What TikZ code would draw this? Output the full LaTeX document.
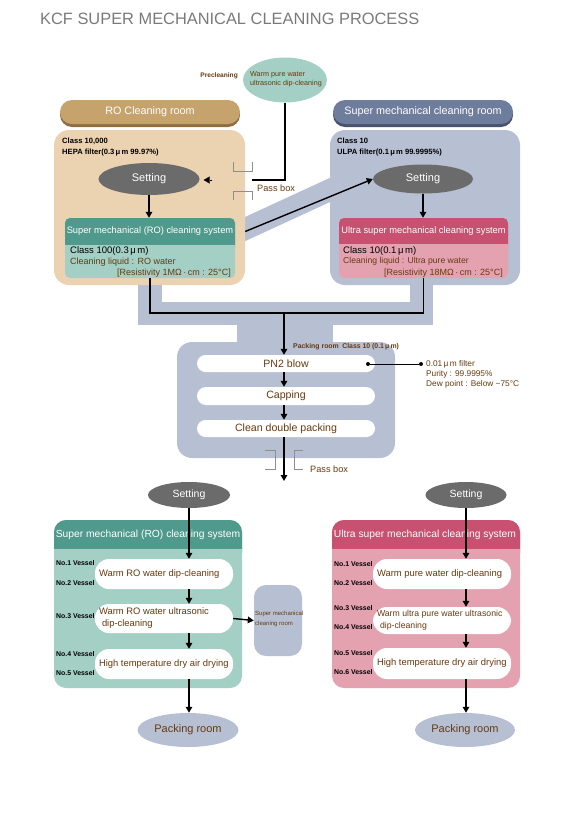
\documentclass[tikz,border=0pt]{standalone}
\usepackage{fontspec}
\setmainfont{Liberation Sans}
\usetikzlibrary{shapes.geometric,arrows.meta,calc}
\definecolor{titlegray}{HTML}{7A7A7A}
\definecolor{tanhdr}{HTML}{C6A36C}
\definecolor{tanshadow}{HTML}{8F6E42}
\definecolor{tanroom}{HTML}{EBD2B1}
\definecolor{slatehdr}{HTML}{6F7D9D}
\definecolor{slateshadow}{HTML}{48526C}
\definecolor{bandblue}{HTML}{B7BFD3}
\definecolor{tealhdr}{HTML}{4F9A8C}
\definecolor{tealbody}{HTML}{A4CFC4}
\definecolor{rasphdr}{HTML}{C85070}
\definecolor{pinkbody}{HTML}{E4A2B1}
\definecolor{txtbrown}{HTML}{663A10}
\definecolor{setgray}{HTML}{6B6B6B}
\definecolor{brackgray}{HTML}{8E8E8E}
\newcommand\fsz[2]{\fontsize{#1pt}{#2pt}\selectfont}
\begin{document}
\begin{tikzpicture}[x=1pt,y=-1pt,
  conn/.style={line width=1.4pt, black},
  arr/.style={conn, -{Triangle[length=6pt,width=6.5pt]}},
  settingnode/.style={ellipse, fill=setgray, text=white, inner sep=0pt, font=\fsz{11}{13}},
  roomhdr/.style={rounded corners=12pt, inner sep=0pt, text=white, font=\fsz{10.8}{13}, minimum width=180pt, minimum height=24pt},
  room/.style={rounded corners=15pt, inner sep=0pt},
  smalltxt/.style={inner sep=0pt, font=\bfseries\fsz{7.6}{10}},
  browntxt/.style={inner sep=0pt, text=txtbrown},
  hdrtxt/.style={inner sep=0pt, text=white},
  pill/.style={fill=white, rounded corners=14pt, inner sep=0pt, minimum width=138pt},
  pilltext/.style={inner sep=0pt, text=txtbrown, font=\fsz{9.4}{12}, align=left},
  packpill/.style={fill=white, rounded corners=8.5pt, minimum width=178pt, minimum height=17pt, inner sep=0pt, text=txtbrown, font=\fsz{10.6}{12}},
  vessel/.style={inner sep=0pt, font=\bfseries\fsz{6.9}{8}, anchor=west},
  bracket/.style={brackgray, line width=0.8pt},
  packell/.style={ellipse, fill=bandblue, text=txtbrown, inner sep=0pt, minimum width=101pt, minimum height=34pt, font=\fsz{11}{13}}
]
\useasboundingbox (0,0) rectangle (582,817);

% title
\node[font=\fsz{16.4}{18}, text=titlegray, anchor=west, inner sep=0pt] (title) at (40,19) {KCF SUPER MECHANICAL CLEANING PROCESS};

% connecting bands
\fill[bandblue] (138,260) rectangle (162,325);
\fill[bandblue] (410,260) rectangle (433,325);
\fill[bandblue] (138,302) rectangle (433,325);
\fill[bandblue] (237,320) rectangle (333,350);
\draw[bandblue, line width=22pt] (230,236) -- (345,183);

% room headers
\fill[tanshadow, rounded corners=12pt] (60,103) rectangle (240,127);
\node[roomhdr, fill=tanhdr] (rohdr) at (150,112) {RO Cleaning room};
\fill[slateshadow, rounded corners=12pt] (333,103) rectangle (513,127);
\node[roomhdr, fill=slatehdr] (smhdr) at (423,112) {Super mechanical cleaning room};

% rooms
\node[room, fill=tanroom, minimum width=191pt, minimum height=155pt] (roroom) at (149.5,207.5) {};
\node[room, fill=bandblue, minimum width=190pt, minimum height=155pt] (smroom) at (425,207.5) {};

\node[smalltxt, anchor=west] (rocls) at (62,141) {Class 10,000};
\node[smalltxt, anchor=west] (rohepa) at (62,153) {HEPA filter(0.3\,μ\,m 99.97\%)};
\node[smalltxt, anchor=west] (smcls) at (337,141) {Class 10};
\node[smalltxt, anchor=west] (smulpa) at (337,153) {ULPA filter(0.1\,μ\,m 99.9995\%)};

% setting ellipses (top)
\node[settingnode, minimum width=101pt, minimum height=32pt] (set1) at (149,179) {Setting};
\node[settingnode, minimum width=100pt, minimum height=29pt] (set2) at (423,179) {Setting};

% RO system box (top)
\node[fill=tealbody, rounded corners=5pt, minimum width=170pt, minimum height=60pt, inner sep=0pt] (rosys) at (150,248) {};
\fill[tealhdr, rounded corners=5pt] (65,218) rectangle (235,252);
\fill[tealbody] (65,245) rectangle (235,254);
\node[hdrtxt, font=\fsz{9.3}{11}] (rosyshdr) at (150,231.5) {Super mechanical (RO) cleaning system};
\node[inner sep=0pt, anchor=west, font=\fsz{9.5}{11}] (rosyscls) at (70,251) {Class 100(0.3\,μ\,m)};
\node[browntxt, anchor=west, font=\fsz{9}{11}] (rosysliq) at (70,262) {Cleaning liquid : RO water};
\node[browntxt, anchor=east, font=\fsz{9}{11}] (rosysres) at (231,273) {[Resistivity 1MΩ\,·\,cm : 25°C]};

% Ultra system box (top)
\node[fill=pinkbody, rounded corners=5pt, minimum width=169pt, minimum height=60pt, inner sep=0pt] (ulsys) at (423.5,248) {};
\fill[rasphdr, rounded corners=5pt] (339,218) rectangle (508,251);
\fill[pinkbody] (339,244) rectangle (508,254);
\node[hdrtxt, font=\fsz{9.3}{11}] (ulsyshdr) at (423.5,231) {Ultra super mechanical cleaning system};
\node[inner sep=0pt, anchor=west, font=\fsz{9.5}{11}] (ulsyscls) at (343,251) {Class 10(0.1\,μ\,m)};
\node[browntxt, anchor=west, font=\fsz{8.6}{11}] (ulsysliq) at (343,261) {Cleaning liquid : Ultra pure water};
\node[browntxt, anchor=east, font=\fsz{9}{11}] (ulsysres) at (503,273) {[Resistivity 18MΩ\,·\,cm : 25°C]};

% precleaning
\node[ellipse, fill=tealbody, minimum width=84pt, minimum height=45pt, inner sep=0pt] (pre) at (285,80) {};
\node[browntxt, anchor=west, align=left, font=\fsz{7.2}{9}] (pretxt) at (250,79.5) {Warm pure water\\ultrasonic dip-cleaning};
\node[browntxt, anchor=east, font=\bfseries\fsz{6.6}{9}] (prelbl) at (238,76) {Precleaning};

% pass box (top)
\coordinate (pbend) at (252,180);
\draw[conn] (pre.south) |- (pbend);
\draw[bracket] (233,162) -- (233,171.5) -- (252,171.5) -- (252,162);
\draw[bracket] (233,200) -- (233,191) -- (252,191) -- (252,200);
\node[browntxt, anchor=west, font=\fsz{9.2}{11}] (pbtxt1) at (257,188) {Pass box};
\coordinate (tipstart) at (212,180);
\coordinate (tipend) at ($(set1.east)+(4,1)$);
\draw[-{Triangle[length=6pt,width=7pt]}, line width=0.1pt] (tipstart) -- (tipend);

% top arrows
\draw[arr] (set1.south) -- (set1.south |- rosys.north);
\draw[arr] (set2.south) -- (set2.south |- ulsys.north);
\draw[arr] (roroom.east |- rosyshdr) -- (set2.west);

% merge to packing room
\coordinate (jn) at (284,313);
\draw[conn] (rosys.south) |- (jn) -| (ulsys.south);

% packing room
\node[room, fill=bandblue, minimum width=218pt, minimum height=116pt] (packroom) at (286,400) {};
\node[browntxt, anchor=west, font=\bfseries\fsz{6.9}{9}] (packlbl) at (293,347) {Packing room\enspace Class 10 (0.1\,μ\,m)};
\node[packpill] (pn2) at (286,363.5) {PN2 blow};
\node[packpill, minimum height=18pt, rounded corners=9pt] (cap) at (286,396) {Capping};
\node[packpill] (cdp) at (286,428.5) {Clean double packing};
\draw[arr] (jn) -- (jn |- pn2.north);
\draw[arr] (jn |- pn2.south) -- (jn |- cap.north);
\draw[arr] (jn |- cap.south) -- (jn |- cdp.north);

\node[circle, fill=black, inner sep=0pt, minimum size=4pt] (dot1) at (368,364) {};
\node[circle, fill=black, inner sep=0pt, minimum size=4pt] (dot2) at (421,364) {};
\draw[line width=0.7pt] (dot1) -- (dot2);
\node[browntxt, anchor=west, align=left, font=\fsz{8.3}{10}] (filt) at (426,374.5) {0.01\,μ\,m filter\\Purity : 99.9995\%\\Dew point : Below −75°C};

% pass box (bottom)
\coordinate (passout) at (284,481);
\draw[arr] (jn |- cdp.south) -- (passout);
\draw[bracket] (265,450.5) -- (275,450.5) -- (275,469) -- (265,469);
\draw[bracket] (303,450.5) -- (294,450.5) -- (294,469) -- (303,469);
\node[browntxt, anchor=west, font=\fsz{9.2}{11}] (pbtxt2) at (310,469) {Pass box};

% bottom setting
\node[settingnode, minimum width=82pt, minimum height=26pt, font=\fsz{10.5}{12}] (set3) at (189,495) {Setting};
\node[settingnode, minimum width=81pt, minimum height=26pt, font=\fsz{10.5}{12}] (set4) at (466,495) {Setting};

% bottom left system
\node[fill=tealbody, rounded corners=12pt, minimum width=188pt, minimum height=168pt, inner sep=0pt] (lsys) at (148,604) {};
\fill[tealhdr, rounded corners=12pt] (54,520) rectangle (242,565);
\fill[tealbody] (54,549) rectangle (242,567);
\node[hdrtxt, font=\fsz{10.3}{12}] (lsyshdr) at (148,534.5) {Super mechanical (RO) cleaning system};

% bottom right system
\node[fill=pinkbody, rounded corners=12pt, minimum width=188pt, minimum height=168pt, inner sep=0pt] (rsys) at (426,604) {};
\fill[rasphdr, rounded corners=12pt] (332,520) rectangle (520,565);
\fill[pinkbody] (332,549) rectangle (520,567);
\node[hdrtxt, font=\fsz{10.3}{12}] (rsyshdr) at (425,534.5) {Ultra super mechanical cleaning system};

% left pills
\node[pill, minimum height=30pt] (lp1) at (164,574) {};
\node[pill, minimum height=29pt] (lp2) at (164,618.5) {};
\node[pill, minimum height=30pt] (lp3) at (164,664) {};
\node[pilltext, anchor=west] (lp1t) at ($(lp1.west)+(4,0)$) {Warm RO water dip-cleaning};
\node[pilltext, anchor=west] (lp2t) at ($(lp2.west)+(4,0)$) {Warm RO water ultrasonic\\\hspace{3pt}dip-cleaning};
\node[pilltext, anchor=west] (lp3t) at ($(lp3.west)+(4,0)$) {High temperature dry air drying};

% right pills
\node[pill, minimum height=30pt] (rp1) at (442,574) {};
\node[pill, minimum height=27pt] (rp2) at (442,620.5) {};
\node[pill, minimum height=31pt] (rp3) at (442,663.5) {};
\node[pilltext, anchor=west] (rp1t) at ($(rp1.west)+(4,0)$) {Warm pure water dip-cleaning};
\node[pilltext, anchor=west, font=\fsz{8.7}{12}] (rp2t) at ($(rp2.west)+(4,0)$) {Warm ultra pure water ultrasonic\\\hspace{3pt}dip-cleaning};
\node[pilltext, anchor=west] (rp3t) at ($(rp3.west)+(4,0)$) {High temperature dry air drying};

% vessel labels
\node[vessel] (lv1) at (56,563) {No.1 Vessel};
\node[vessel] (lv2) at (56,583) {No.2 Vessel};
\node[vessel] (lv3) at (56,616) {No.3 Vessel};
\node[vessel] (lv4) at (56,654) {No.4 Vessel};
\node[vessel] (lv5) at (56,673) {No.5 Vessel};
\node[vessel] (rv1) at (334,564) {No.1 Vessel};
\node[vessel] (rv2) at (334,583) {No.2 Vessel};
\node[vessel] (rv3) at (334,608) {No.3 Vessel};
\node[vessel] (rv4) at (334,627) {No.4 Vessel};
\node[vessel] (rv5) at (334,653) {No.5 Vessel};
\node[vessel] (rv6) at (334,672) {No.6 Vessel};

% side room
\node[room, rounded corners=12pt, fill=bandblue, minimum width=48pt, minimum height=71pt] (sideroom) at (278,620.5) {};
\node[browntxt, align=left, anchor=west, font=\fsz{6}{10}] (sidetxt) at (255,619) {Super mechanical\\cleaning room};

% packing room ellipses
\node[packell] (pack1) at (188,730) {Packing room};
\node[packell, minimum width=100pt] (pack2) at (465,730) {Packing room};

% bottom arrows left
\draw[arr] (set3.south) -- (set3.south |- lp1.north);
\draw[arr] (lp1.south -| set3.south) -- (lp2.north -| set3.south);
\draw[arr] (lp2.south -| set3.south) -- (lp3.north -| set3.south);
\draw[arr] (lp3.south -| set3.south) -- (pack1.north -| set3.south);
\draw[arr] (lp2.east) -- (sideroom.west);

% bottom arrows right
\draw[arr] (set4.south) -- (set4.south |- rp1.north);
\draw[arr] (rp1.south -| set4.south) -- (rp2.north -| set4.south);
\draw[arr] (rp2.south -| set4.south) -- (rp3.north -| set4.south);
\draw[arr] (rp3.south -| set4.south) -- (pack2.north -| set4.south);
\end{tikzpicture}
\end{document}
